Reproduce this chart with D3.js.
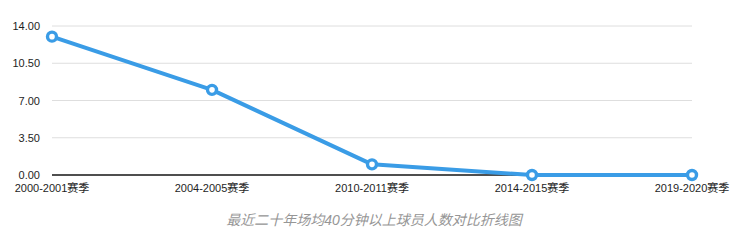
<!DOCTYPE html>
<html>
<head>
<meta charset="utf-8">
<script src="https://cdn.jsdelivr.net/npm/d3@7"></script>
<style>
	body { margin: 0; background: #fff; }
	text { font-family: "Liberation Sans", "Noto Sans CJK SC", sans-serif; }
</style>
</head>
<body>
<svg id="chart" width="753" height="242"></svg>
<script>
var seasons = ['2000-2001赛季', '2004-2005赛季', '2010-2011赛季', '2014-2015赛季', '2019-2020赛季'];
var players = [13, 8, 1, 0, 0];
var yTicks = [0, 3.5, 7, 10.5, 14];
var title = '最近二十年场均40分钟以上球员人数对比折线图';

var svg = d3.select('#chart');

var x = d3.scalePoint()
	.domain(seasons)
	.range([52, 692]);

var y = d3.scaleLinear()
	.domain([0, 14])
	.range([175, 26]);

// сетка
svg.append('g')
	.selectAll('line')
	.data(yTicks.filter(function (d) { return d > 0; }))
	.enter()
	.append('line')
	.attr('x1', 52)
	.attr('x2', 692)
	.attr('y1', function (d) { return y(d); })
	.attr('y2', function (d) { return y(d); })
	.attr('stroke', 'rgb(222,222,222)')
	.attr('stroke-width', 1);

// подписи оси Y
svg.append('g')
	.selectAll('text')
	.data(yTicks)
	.enter()
	.append('text')
	.attr('x', 40)
	.attr('y', function (d) { return y(d) + 4; })
	.attr('text-anchor', 'end')
	.attr('font-size', 11)
	.attr('fill', 'rgb(30,30,30)')
	.text(function (d) { return d.toFixed(2); });

// ось X
svg.append('line')
	.attr('x1', 52)
	.attr('x2', 692)
	.attr('y1', y(0))
	.attr('y2', y(0))
	.attr('stroke', 'rgb(20,20,20)')
	.attr('stroke-width', 1.3);

svg.append('g')
	.selectAll('text')
	.data(seasons)
	.enter()
	.append('text')
	.attr('x', function (d) { return x(d); })
	.attr('y', 192)
	.attr('text-anchor', 'middle')
	.attr('font-size', 11)
	.attr('fill', 'rgb(30,30,30)')
	.text(function (d) { return d; });

var line = d3.line()
	.x(function (d, i) { return x(seasons[i]); })
	.y(function (d) { return y(d); });

svg.append('path')
	.datum(players)
	.attr('d', line)
	.attr('fill', 'none')
	.attr('stroke', 'rgb(58,156,230)')
	.attr('stroke-width', 4)
	.attr('stroke-linejoin', 'round');

svg.append('g')
	.selectAll('circle')
	.data(players)
	.enter()
	.append('circle')
	.attr('cx', function (d, i) { return x(seasons[i]); })
	.attr('cy', function (d) { return y(d); })
	.attr('r', 4.5)
	.attr('fill', '#fff')
	.attr('stroke', 'rgb(58,156,230)')
	.attr('stroke-width', 3.4);

svg.append('text')
	.attr('x', 374)
	.attr('y', 225)
	.attr('text-anchor', 'middle')
	.attr('font-size', 14)
	.attr('font-style', 'italic')
	.attr('fill', 'rgb(150,150,150)')
	.text(title);
</script>
</body>
</html>
